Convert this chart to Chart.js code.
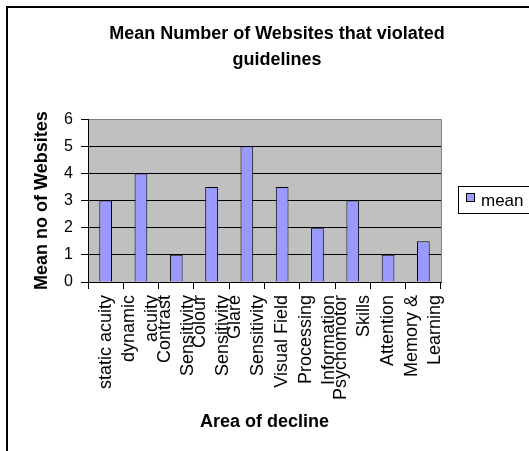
<!DOCTYPE html>
<html>
<head>
<meta charset="utf-8">
<script src="https://cdn.jsdelivr.net/npm/chart.js@4.4.1/dist/chart.umd.min.js"></script>
<style>
    body { margin: 0; background: #fff; overflow: hidden; }
    #frame { position: absolute; left: 6px; top: 6px; width: 700px; height: 700px; border-left: 2px solid #000; border-top: 2px solid #000; }
    #chart { position: absolute; left: 0; top: 0; }
</style>
</head>
<body>
<div id="frame"></div>
<canvas id="chart" width="529" height="451"></canvas>
<script>
// Data
const categories = [
    ['static acuity'],
    ['dynamic', 'acuity'],
    ['Contrast', 'Sensitivity'],
    ['Colour', 'Sensitivity'],
    ['Glare', 'Sensitivity'],
    ['Visual Field'],
    ['Processing', 'Information'],
    ['Psychomotor', 'Skills'],
    ['Attention'],
    ['Memory &', 'Learning']
];
const meanValues = [3, 4, 1, 3.5, 5, 3.5, 2, 3, 1, 1.5];
const seriesName = 'mean';
const yTicks = [0, 1, 2, 3, 4, 5, 6];

const FONT = 'Arial, "Liberation Sans", sans-serif';
const BAR_COLOR = '#9999ff';

// Plot background and gray right border
const plotBackground = {
    id: 'plotBackground',
    beforeDraw(chart) {
        const { ctx, chartArea: a } = chart;
        ctx.save();
        ctx.fillStyle = '#c0c0c0';
        ctx.fillRect(a.left, a.top, a.right - a.left, a.bottom - a.top);
        ctx.restore();
    },
    beforeDatasetsDraw(chart) {
        const { ctx, chartArea: a } = chart;
        ctx.save();
        ctx.strokeStyle = '#808080';
        ctx.lineWidth = 1;
        ctx.beginPath();
        ctx.moveTo(Math.round(a.right) + 0.5, a.top);
        ctx.lineTo(Math.round(a.right) + 0.5, a.bottom);
        ctx.stroke();
        ctx.restore();
    }
};

// Category labels: rotated, lines centred on the category
const xLabels = {
    id: 'xLabels',
    afterDraw(chart) {
        const { ctx, chartArea: a } = chart;
        const xs = chart.scales.x;
        const lh = 23;
        ctx.save();
        ctx.fillStyle = '#000';
        ctx.font = '18px ' + FONT;
        ctx.textAlign = 'right';
        ctx.textBaseline = 'middle';
        categories.forEach((lines, i) => {
            const x = xs.getPixelForValue(i);
            ctx.save();
            ctx.translate(x, a.bottom + 13);
            ctx.rotate(-Math.PI / 2);
            lines.forEach((line, j) => {
                ctx.fillText(line, 0, (j - (lines.length - 1) / 2) * lh);
            });
            ctx.restore();
        });
        ctx.restore();
    }
};

// Legend box on the right, clipped by the page edge like the original
const boxLegend = {
    id: 'boxLegend',
    afterDraw(chart) {
        const { ctx } = chart;
        const ds = chart.data.datasets[0];
        ctx.save();
        ctx.strokeStyle = '#000';
        ctx.lineWidth = 1;
        ctx.fillStyle = '#fff';
        ctx.fillRect(458.5, 186.5, 100, 27);
        ctx.strokeRect(458.5, 186.5, 100, 27);
        ctx.fillStyle = ds.backgroundColor;
        ctx.fillRect(466.5, 193.5, 8, 8);
        ctx.strokeRect(466.5, 193.5, 8, 8);
        ctx.fillStyle = '#000';
        ctx.font = '17px ' + FONT;
        ctx.textBaseline = 'middle';
        ctx.fillText(ds.label, 481, 201);
        ctx.restore();
    }
};

new Chart(document.getElementById('chart'), {
    type: 'bar',
    data: {
        labels: categories.map(c => c.join(' ')),
        datasets: [{
            label: seriesName,
            data: meanValues,
            backgroundColor: BAR_COLOR,
            borderColor: '#000',
            borderWidth: 1,
            barPercentage: 0.36,
            categoryPercentage: 1
        }]
    },
    options: {
        responsive: false,
        devicePixelRatio: 1,
        animation: false,
        layout: { padding: { left: 25, right: 0, top: 13, bottom: 0 } },
        plugins: {
            legend: { display: false },
            tooltip: { enabled: false },
            title: {
                display: true,
                text: ['Mean Number of Websites that violated', 'guidelines'],
                color: '#000',
                font: { family: FONT, size: 18, weight: 'bold', lineHeight: 1.45 },
                padding: { top: 8, bottom: 46 }
            }
        },
        scales: {
            x: {
                grid: { display: true, offset: true, drawOnChartArea: false, color: '#000', tickLength: 7 },
                border: { color: '#000', width: 1 },
                ticks: { color: 'transparent', autoSkip: false, maxRotation: 90, minRotation: 90, font: { family: FONT, size: 18 } },
                title: {
                    display: true,
                    text: 'Area of decline',
                    color: '#000',
                    font: { family: FONT, size: 18, weight: 'bold' },
                    padding: { top: 4, bottom: 18 }
                },
                afterFit(scale) { scale.height = 169; }
            },
            y: {
                min: yTicks[0],
                max: yTicks[yTicks.length - 1],
                grid: {
                    color: ctx => (ctx.tick && ctx.tick.value === 6 ? '#808080' : '#000'),
                    tickColor: '#000',
                    tickLength: 7,
                    lineWidth: 1
                },
                border: { color: '#000', width: 1 },
                ticks: {
                    stepSize: 1,
                    color: '#000',
                    padding: 8,
                    font: { family: FONT, size: 16 }
                },
                afterBuildTicks(scale) { scale.ticks = yTicks.map(v => ({ value: v })); },
                title: {
                    display: true,
                    text: 'Mean no of Websites',
                    color: '#000',
                    font: { family: FONT, size: 18, weight: 'bold' },
                    padding: { top: 6, bottom: 4 }
                },
                afterFit(scale) { scale.width = 63; }
            },
            y2: {
                position: 'right',
                display: true,
                grid: { display: false },
                border: { display: false },
                ticks: { display: false },
                afterFit(scale) { scale.width = 88; }
            }
        }
    },
    plugins: [plotBackground, xLabels, boxLegend]
});
</script>
</body>
</html>
